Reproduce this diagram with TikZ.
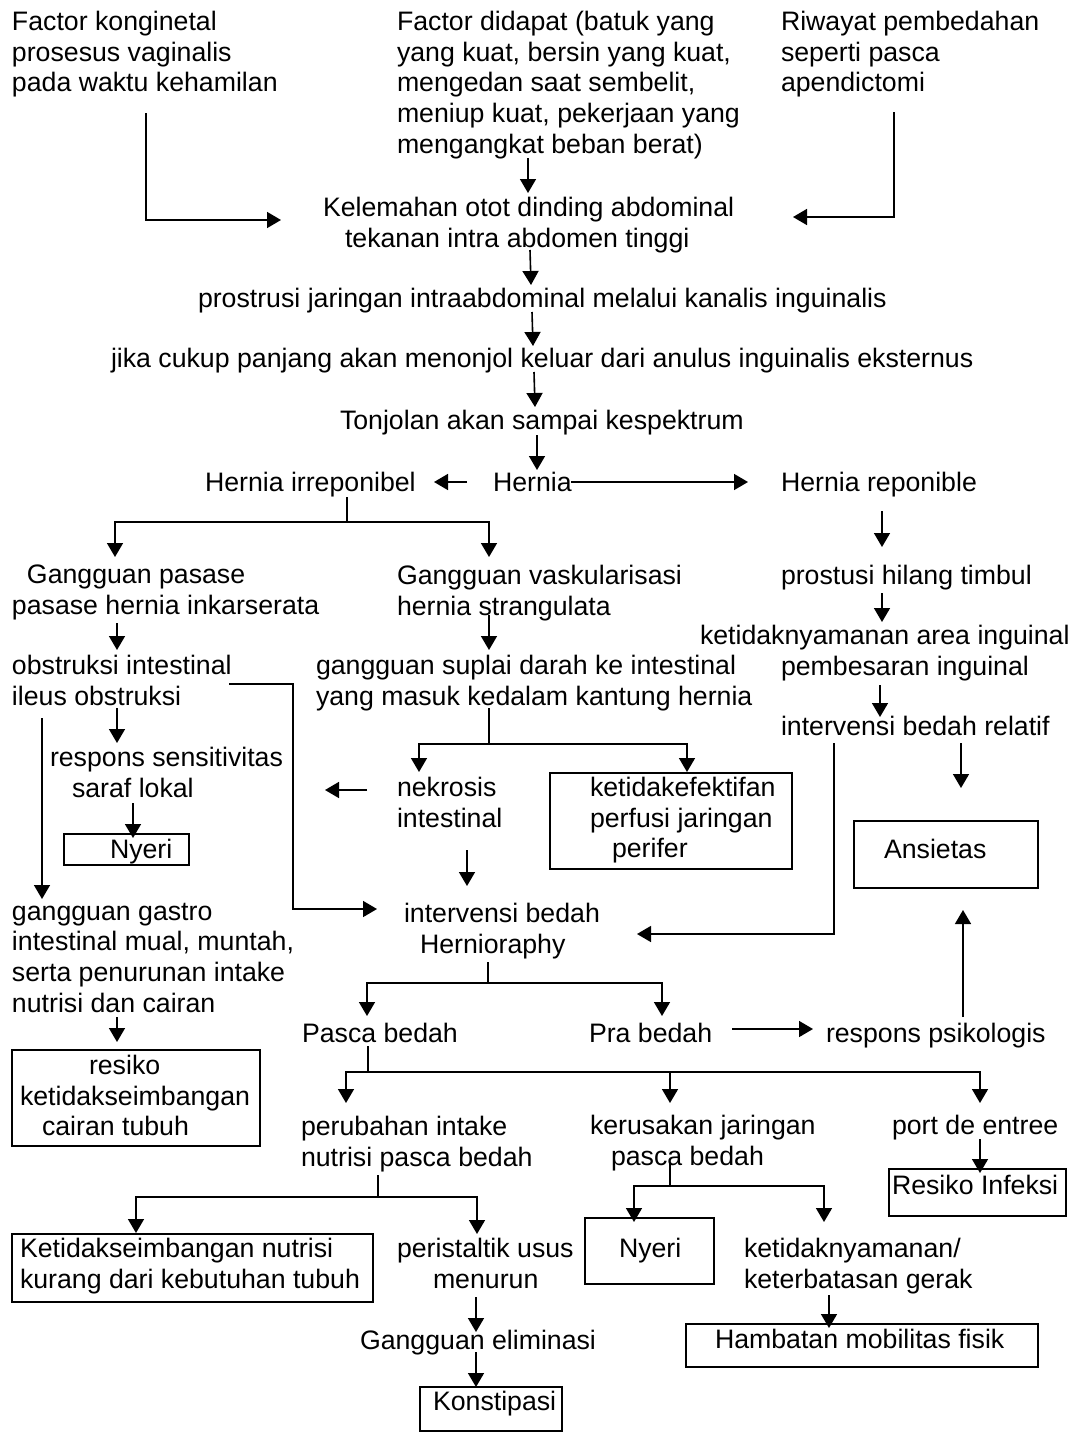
\documentclass[tikz,border=0pt]{standalone}
\usepackage{fontspec}
\setmainfont{Liberation Sans}
\usetikzlibrary{arrows.meta}
\newcommand\dfont{\fontsize{26.7}{30.7}\selectfont}
\tikzset{
  txt/.style={inner sep=0pt, outer sep=0pt, align=left, font=\dfont, anchor=north west},
  bx/.style={draw, line width=1.6pt, inner sep=0pt, outer sep=0pt},
  ln/.style={line width=1.6pt},
  arr/.style={line width=1.6pt, -{Triangle[length=14pt,width=16pt]}},
}
\begin{document}
\begin{tikzpicture}[x=1pt,y=-1pt]
\fill[white] (0,0) rectangle (1076,1432);
\useasboundingbox (0,0) rectangle (1076,1432);

% ---------- text nodes ----------
\node[txt] (fk) at (12,11) {Factor konginetal\\prosesus vaginalis\\pada waktu kehamilan};
\node[txt] (fd) at (397,11) {Factor didapat (batuk yang\\yang kuat, bersin yang kuat,\\mengedan saat sembelit,\\meniup kuat, pekerjaan yang\\mengangkat beban berat)};
\node[txt] (rp) at (781,11) {Riwayat pembedahan\\seperti pasca\\apendictomi};
\node[txt] (kel) at (323,197) {Kelemahan otot dinding abdominal\\\hspace*{22pt}tekanan intra abdomen tinggi};
\node[txt] (pro) at (198,288) {prostrusi jaringan intraabdominal melalui kanalis inguinalis};
\node[txt] (jika) at (111,348) {jika cukup panjang akan menonjol keluar dari anulus inguinalis eksternus};
\node[txt] (ton) at (340,410) {Tonjolan akan sampai kespektrum};
\node[txt] (her) at (493,472) {Hernia};
\node[txt] (hirr) at (205,472) {Hernia irreponibel};
\node[txt] (hrep) at (781,472) {Hernia reponible};
\node[txt] (gp) at (12,565) {\hspace*{15pt}Gangguan pasase\\pasase hernia inkarserata};
\node[txt] (gv) at (397,565) {Gangguan vaskularisasi\\hernia strangulata};
\node[txt] (phl) at (781,565) {prostusi hilang timbul};
\node[txt] (kai) at (700,625) {ketidaknyamanan area inguinal\\\hspace*{81pt}pembesaran inguinal};
\node[txt] (obs) at (12,655) {obstruksi intestinal\\ileus obstruksi};
\node[txt] (gs) at (316,655) {gangguan suplai darah ke intestinal\\yang masuk kedalam kantung hernia};
\node[txt] (ibr) at (781,716) {intervensi bedah relatif};
\node[txt] (rsl) at (50,747) {respons sensitivitas\\\hspace*{22pt}saraf lokal};
\node[txt] (nek) at (397,777) {nekrosis\\intestinal};
\node[bx, minimum width=242pt, minimum height=96pt, anchor=north west] (kpb) at (550,773) {};
\node[txt] (kp) at (590,777) {ketidakefektifan\\perfusi jaringan\\\hspace*{22pt}perifer};
\node[bx, minimum width=125pt, minimum height=31pt, anchor=north west] (ny1b) at (64,834) {};
\node[txt] (ny1) at (110,839) {Nyeri};
\node[bx, minimum width=184pt, minimum height=67pt, anchor=north west] (ansb) at (854,821) {};
\node[txt] (ans) at (884,839) {Ansietas};
\node[txt] (ggi) at (12,903) {gangguan gastro\\intestinal mual, muntah,\\serta penurunan intake\\nutrisi dan cairan};
\node[txt] (ibh) at (404,903) {intervensi bedah\\\hspace*{16pt}Hernioraphy};
\node[bx, minimum width=248pt, minimum height=96pt, anchor=north west] (resb) at (12,1050) {};
\node[txt] (res) at (20,1055) {\hspace*{69pt}resiko\\ketidakseimbangan\\\hspace*{22pt}cairan tubuh};
\node[txt] (pasca) at (302,1023) {Pasca bedah};
\node[txt] (pra) at (589,1023) {Pra bedah};
\node[txt] (rpsi) at (826,1023) {respons psikologis};
\node[txt] (pin) at (301,1116) {perubahan intake\\nutrisi pasca bedah};
\node[txt] (kjp) at (590,1115) {kerusakan jaringan\\\hspace*{21pt}pasca bedah};
\node[txt] (pde) at (892,1115) {port de entree};
\node[bx, minimum width=177pt, minimum height=47pt, anchor=north west] (rib) at (889,1169) {};
\node[txt] (ri) at (892,1175) {Resiko Infeksi};
\node[bx, minimum width=361pt, minimum height=68pt, anchor=north west] (kngb) at (12,1234) {};
\node[txt] (kng) at (20,1238) {Ketidakseimbangan nutrisi\\kurang dari kebutuhan tubuh};
\node[txt] (pum) at (397,1238) {peristaltik usus\\\hspace*{36pt}menurun};
\node[bx, minimum width=129pt, minimum height=66pt, anchor=north west] (ny2b) at (585,1218) {};
\node[txt] (ny2) at (619,1238) {Nyeri};
\node[txt] (kk) at (744,1238) {ketidaknyamanan/\\keterbatasan gerak};
\node[txt] (ge) at (360,1330) {Gangguan eliminasi};
\node[bx, minimum width=352pt, minimum height=43pt, anchor=north west] (hmfb) at (686,1324) {};
\node[txt] (hmf) at (715,1329) {Hambatan mobilitas fisik};
\node[bx, minimum width=142pt, minimum height=44pt, anchor=north west] (konb) at (420,1387) {};
\node[txt] (kon) at (433,1391) {Konstipasi};

% ---------- connector points ----------
\coordinate (fk1) at (146,113); \coordinate (fk2) at (146,220); \coordinate (fk3) at (281,220);
\coordinate (fd1) at (528,158); \coordinate (fd2) at (528,193);
\coordinate (rp1) at (894,112); \coordinate (rp2) at (894,217); \coordinate (rp3) at (793,217);
\coordinate (ke1) at (530,250); \coordinate (ke2) at (531,285);
\coordinate (pr1) at (532,312); \coordinate (pr2) at (533,346);
\coordinate (ji1) at (534,372); \coordinate (ji2) at (535,407);
\coordinate (to1) at (537,435); \coordinate (to2) at (537,470);
\coordinate (he1) at (467,482); \coordinate (he2) at (434,482);
\coordinate (he3) at (571,482); \coordinate (he4) at (748,482);
\coordinate (hi1) at (347,497); \coordinate (hi2) at (347,522);
\coordinate (hi3) at (115,557); \coordinate (hi4) at (489,557);
\coordinate (hr1) at (882,511); \coordinate (hr2) at (882,547);
\coordinate (ph1) at (882,593); \coordinate (ph2) at (882,622);
\coordinate (gp1) at (117,623); \coordinate (gp2) at (117,650);
\coordinate (gv1) at (489,615); \coordinate (gv2) at (489,650);
\coordinate (ka1) at (880,685); \coordinate (ka2) at (880,717);
\coordinate (ob1) at (117,708); \coordinate (ob2) at (117,743);
\coordinate (ob3) at (42,718);  \coordinate (ob4) at (42,899);
\coordinate (ob5) at (229,684); \coordinate (ob6) at (293,684); \coordinate (ob7) at (293,909); \coordinate (ob8) at (377,909);
\coordinate (gs1) at (489,708); \coordinate (gs2) at (489,744);
\coordinate (gs3) at (419,772); \coordinate (gs4) at (687,772);
\coordinate (ne1) at (367,790); \coordinate (ne2) at (325,790);
\coordinate (ne3) at (467,850); \coordinate (ne4) at (467,886);
\coordinate (rs1) at (133,803); \coordinate (rs2) at (133,838);
\coordinate (ib1) at (834,743); \coordinate (ib2) at (834,934); \coordinate (ib3) at (637,934);
\coordinate (ib4) at (961,743); \coordinate (ib5) at (961,788);
\coordinate (ps1) at (963,1017); \coordinate (ps2) at (963,910);
\coordinate (gg1) at (117,1017); \coordinate (gg2) at (117,1042);
\coordinate (ih1) at (488,962); \coordinate (ih2) at (488,983);
\coordinate (ih3) at (367,1016); \coordinate (ih4) at (662,1016);
\coordinate (pa1) at (732,1029); \coordinate (pa2) at (813,1029);
\coordinate (pc1) at (368,1046); \coordinate (pc2) at (368,1072);
\coordinate (pc3) at (346,1103); \coordinate (pc4) at (670,1103); \coordinate (pc5) at (980,1103);
\coordinate (pi1) at (378,1175); \coordinate (pi2) at (378,1197);
\coordinate (pi3) at (136,1233); \coordinate (pi4) at (477,1234);
\coordinate (kj1) at (670,1163); \coordinate (kj2) at (670,1186);
\coordinate (kj3) at (634,1222); \coordinate (kj4) at (824,1222);
\coordinate (pd1) at (980,1139); \coordinate (pd2) at (980,1173);
\coordinate (pu1) at (476,1297); \coordinate (pu2) at (476,1332);
\coordinate (ge1) at (476,1352); \coordinate (ge2) at (476,1387);
\coordinate (kk1) at (829,1295); \coordinate (kk2) at (829,1328);

% ---------- connectors ----------
\draw[arr] (fk1) -- (fk2) -- (fk3);
\draw[arr] (fd1) -- (fd2);
\draw[arr] (rp1) -- (rp2) -- (rp3);
\draw[arr] (ke1) -- (ke2);
\draw[arr] (pr1) -- (pr2);
\draw[arr] (ji1) -- (ji2);
\draw[arr] (to1) -- (to2);
\draw[arr] (he1) -- (he2);
\draw[arr] (he3) -- (he4);
\draw[ln] (hi1) -- (hi2);
\draw[arr] (hi2) -| (hi3);
\draw[arr] (hi2) -| (hi4);
\draw[arr] (hr1) -- (hr2);
\draw[arr] (ph1) -- (ph2);
\draw[arr] (gp1) -- (gp2);
\draw[arr] (gv1) -- (gv2);
\draw[arr] (ka1) -- (ka2);
\draw[arr] (ob1) -- (ob2);
\draw[arr] (ob3) -- (ob4);
\draw[arr] (ob5) -- (ob6) -- (ob7) -- (ob8);
\draw[ln] (gs1) -- (gs2);
\draw[arr] (gs2) -| (gs3);
\draw[arr] (gs2) -| (gs4);
\draw[arr] (ne1) -- (ne2);
\draw[arr] (ne3) -- (ne4);
\draw[arr] (rs1) -- (rs2);
\draw[arr] (ib1) -- (ib2) -- (ib3);
\draw[arr] (ib4) -- (ib5);
\draw[arr] (ps1) -- (ps2);
\draw[arr] (gg1) -- (gg2);
\draw[ln] (ih1) -- (ih2);
\draw[arr] (ih2) -| (ih3);
\draw[arr] (ih2) -| (ih4);
\draw[arr] (pa1) -- (pa2);
\draw[ln] (pc1) -- (pc2);
\draw[arr] (pc2) -| (pc3);
\draw[arr] (pc2) -| (pc4);
\draw[arr] (pc2) -| (pc5);
\draw[ln] (pi1) -- (pi2);
\draw[arr] (pi2) -| (pi3);
\draw[arr] (pi2) -| (pi4);
\draw[ln] (kj1) -- (kj2);
\draw[arr] (kj2) -| (kj3);
\draw[arr] (kj2) -| (kj4);
\draw[arr] (pd1) -- (pd2);
\draw[arr] (pu1) -- (pu2);
\draw[arr] (ge1) -- (ge2);
\draw[arr] (kk1) -- (kk2);
\end{tikzpicture}
\end{document}
